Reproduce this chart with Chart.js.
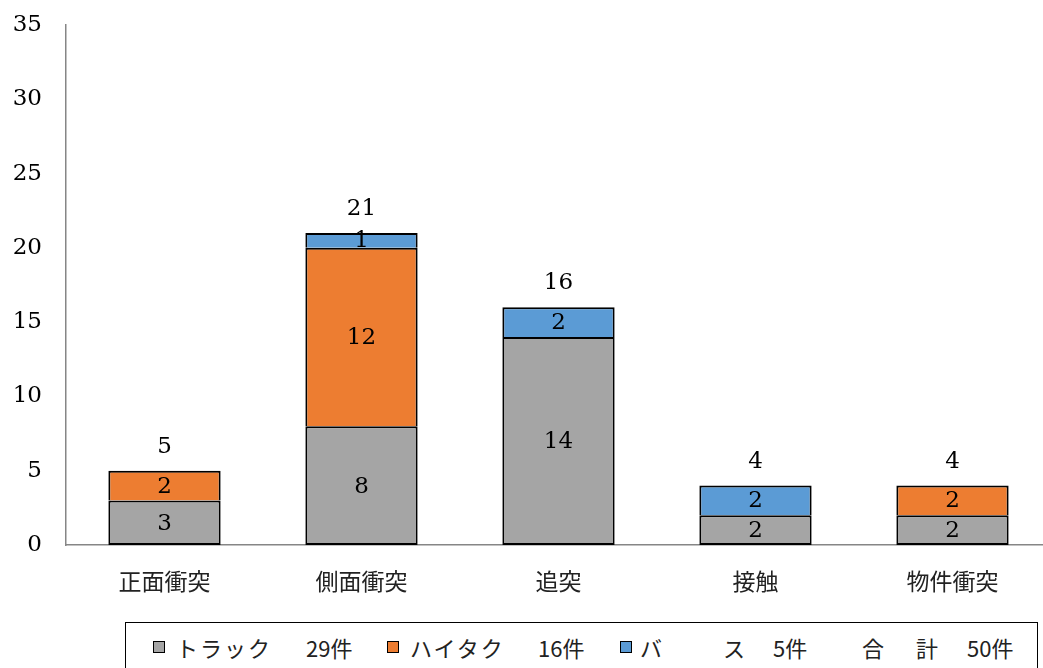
<!DOCTYPE html>
<html lang="ja">
<head>
<meta charset="UTF-8">
<title>事故類型別件数</title>
<script src="https://cdn.jsdelivr.net/npm/chart.js"></script>
<style>
    html, body { margin: 0; padding: 0; background: #fff; overflow: hidden; }
    body { width: 1043px; height: 668px; position: relative; }
    .wrap { position: absolute; left: 0; top: 0; width: 1052px; height: 610px; }
    /* 凡例（HTML） */
    .legend {
        position: absolute; left: 125px; top: 622px; width: 913px; height: 70px;
        border: 1.5px solid #000; box-sizing: border-box;
        font-family: "Noto Sans CJK JP", sans-serif; font-size: 22px; color: #222;
    }
    .legend span { position: absolute; top: 9px; line-height: 30px; white-space: nowrap; }
    .legend i { position: absolute; top: 18px; width: 10px; height: 10px; border: 1.5px solid #000; }
</style>
</head>
<body>
<div class="wrap"><canvas id="chart"></canvas></div>
<div class="legend">
    <i style="left:27px;background:#A5A5A5"></i>
    <span style="left:50px;letter-spacing:2px">トラック</span>
    <span style="left:180px">29件</span>
    <i style="left:261px;background:#ED7D31"></i>
    <span style="left:284px;letter-spacing:2px">ハイタク</span>
    <span style="left:412px">16件</span>
    <i style="left:494px;background:#5B9BD5"></i>
    <span style="left:514px">バ</span>
    <span style="left:597px">ス</span>
    <span style="left:647px">5件</span>
    <span style="left:736px">合</span>
    <span style="left:790px">計</span>
    <span style="left:841px">50件</span>
</div>
<script>
// データ
const categories = ["正面衝突", "側面衝突", "追突", "接触", "物件衝突"];
const truck  = [3, 8, 14, 2, 2];
const hitaku = [2, 12, 0, 0, 2];
const bus    = [0, 1, 2, 2, 0];
const yTicks = [0, 5, 10, 15, 20, 25, 30, 35];

const numFont = "'DejaVu Serif', serif";
const jpFont = "'Noto Sans CJK JP', sans-serif";

// 値ラベル＋合計
const valueLabels = {
    id: 'valueLabels',
    afterDatasetsDraw(chart) {
        const ctx = chart.ctx;
        ctx.save();
        ctx.font = "23px " + numFont;
        ctx.fillStyle = "#000";
        ctx.textAlign = "center";
        ctx.textBaseline = "middle";
        chart.data.datasets.forEach((ds, i) => {
            const meta = chart.getDatasetMeta(i);
            meta.data.forEach((bar, j) => {
                const v = ds.data[j];
                if (!v) return;
                ctx.fillText(String(v), bar.x, (bar.y + bar.base) / 2 + 1);
            });
        });
        const y = chart.scales.y;
        const meta0 = chart.getDatasetMeta(0);
        categories.forEach((c, j) => {
            const total = truck[j] + hitaku[j] + bus[j];
            ctx.fillText(String(total), meta0.data[j].x, y.getPixelForValue(total) - 24);
        });
        ctx.restore();
    }
};

const base = { borderColor: "#000", borderSkipped: false, barPercentage: 0.57, categoryPercentage: 1 };
const fullBorder = 2;
const openBottom = { top: 2, left: 2, right: 2, bottom: 0 };
// 0件の区分は描かない
const nz = arr => arr.map(v => v || null);

new Chart(document.getElementById("chart"), {
    type: "bar",
    data: {
        labels: categories,
        datasets: [
            Object.assign({ label: "トラック", data: nz(truck), backgroundColor: "#A5A5A5", borderWidth: fullBorder }, base),
            Object.assign({ label: "ハイタク", data: nz(hitaku), backgroundColor: "#ED7D31", borderWidth: openBottom }, base),
            Object.assign({ label: "バス", data: nz(bus), backgroundColor: "#5B9BD5", borderWidth: openBottom }, base)
        ]
    },
    options: {
        responsive: true,
        maintainAspectRatio: false,
        animation: false,
        layout: { padding: { top: 25, right: 1, left: 0, bottom: 0 } },
        scales: {
            x: {
                stacked: true,
                grid: { display: false, drawTicks: false },
                border: { color: "#868686", width: 1.5 },
                ticks: { font: { family: jpFont, size: 23 }, color: "#222", padding: 22 },
                afterFit(scale) { scale.height = 65; }
            },
            y: {
                stacked: true,
                min: 0, max: 35,
                grid: { display: false, drawTicks: false },
                border: { color: "#868686", width: 1.5 },
                afterBuildTicks(scale) { scale.ticks = yTicks.map(v => ({ value: v })); },
                ticks: { font: { family: numFont, size: 23 }, color: "#000", padding: 24 },
                afterFit(scale) { scale.width = 66; scale.paddingTop = 0; scale.paddingBottom = 0; }
            }
        },
        plugins: {
            legend: { display: false },
            tooltip: { enabled: false }
        }
    },
    plugins: [valueLabels]
});
</script>
</body>
</html>
